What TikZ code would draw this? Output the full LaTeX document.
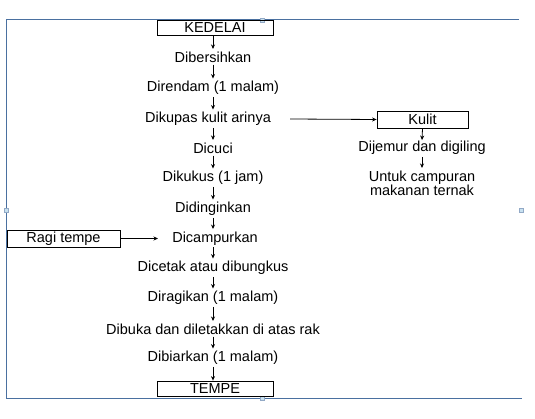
\documentclass[tikz,border=0pt]{standalone}
\usepackage{fontspec}
\setmainfont{Liberation Sans}
\usetikzlibrary{arrows.meta}
\definecolor{framecol}{RGB}{74,112,160}
\definecolor{handlecol}{RGB}{200,225,240}
\tikzset{
  box/.style={draw=black, line width=0.8pt, inner sep=0pt, minimum height=16pt, font=\fontsize{14.5}{16}\selectfont},
  lbl/.style={inner sep=1pt, font=\fontsize{14.5}{16}\selectfont, align=center},
  arr/.style={line width=0.8pt, -{Stealth[length=4.5pt,width=4pt]}},
  varr/.style={arr, shorten <=1pt, shorten >=1.5pt},
  frameline/.style={draw=framecol, line width=1pt},
  handle/.style={draw=framecol!60, fill=handlecol, line width=0.4pt, minimum size=4pt, inner sep=0pt}
}
\begin{document}
\begin{tikzpicture}[x=1pt,y=-1pt]
\useasboundingbox (0,0) rectangle (535,419);
% frame
\draw[frameline] (519,20) -- (6,20) -- (6,398.5) -- (522,398.5);
\node[handle] (h1) at (262,20) {};
\node[handle] (h2) at (262,398.5) {};
\node[handle] (h3) at (6,210) {};
\node[handle] (h4) at (521,210) {};
% main column
\node[box, minimum width=116pt, minimum height=15pt] (kedelai) at (215,27.5) {KEDELAI};
\node[lbl] (n1) at (213,57) {Dibersihkan};
\node[lbl] (n2) at (213,88) {Direndam (1 malam)};
\node[lbl] (n3) at (208,119) {Dikupas kulit arinya};
\node[lbl] (n4) at (213,148) {Dicuci};
\node[lbl] (n5) at (213,178) {Dikukus (1 jam)};
\node[lbl] (n6) at (213,209) {Didinginkan};
\node[lbl] (n7) at (215,238.5) {Dicampurkan};
\node[lbl] (n8) at (213,268) {Dicetak atau dibungkus};
\node[lbl] (n9) at (213,298) {Diragikan (1 malam)};
\node[lbl] (n10) at (213,329) {Dibuka dan diletakkan di atas rak};
\node[lbl] (n11) at (213,358) {Dibiarkan (1 malam)};
\node[box, minimum width=116pt, minimum height=15pt] (tempe) at (215,388.5) {TEMPE};
% side branches
\node[box, minimum width=91pt, minimum height=17pt] (kulit) at (422.5,119.5) {Kulit};
\node[lbl] (k1) at (422,148) {Dijemur dan digiling};
\node[lbl] (k2) at (422,183) {Untuk campuran\\[-2pt]makanan ternak};
\node[box, minimum width=113pt, minimum height=17pt] (ragi) at (63.5,238.5) {Ragi tempe};
\coordinate (c3) at (290,119);
\coordinate (c7) at (158,238.5);
% arrows
\draw[arr, shorten >=1.5pt] (kedelai.south -| n1.north) -- (n1.north);
\foreach \a/\b in {n1/n2,n2/n3,n3/n4,n4/n5,n5/n6,n6/n7,n7/n8,n8/n9,n9/n10,n10/n11}{
  \draw[varr] (\a.south -| n1.south) -- (\b.north -| n1.south);
}
\draw[arr, shorten <=1pt] (n11.south -| n1.south) -- (tempe.north -| n1.south);
\draw[arr] (c3) -- (kulit.west);
\draw[arr] (kulit.south) -- (k1.north);
\draw[varr] (k1.south) -- (k2.north);
\draw[arr] (ragi.east) -- (c7);
\end{tikzpicture}
\end{document}
